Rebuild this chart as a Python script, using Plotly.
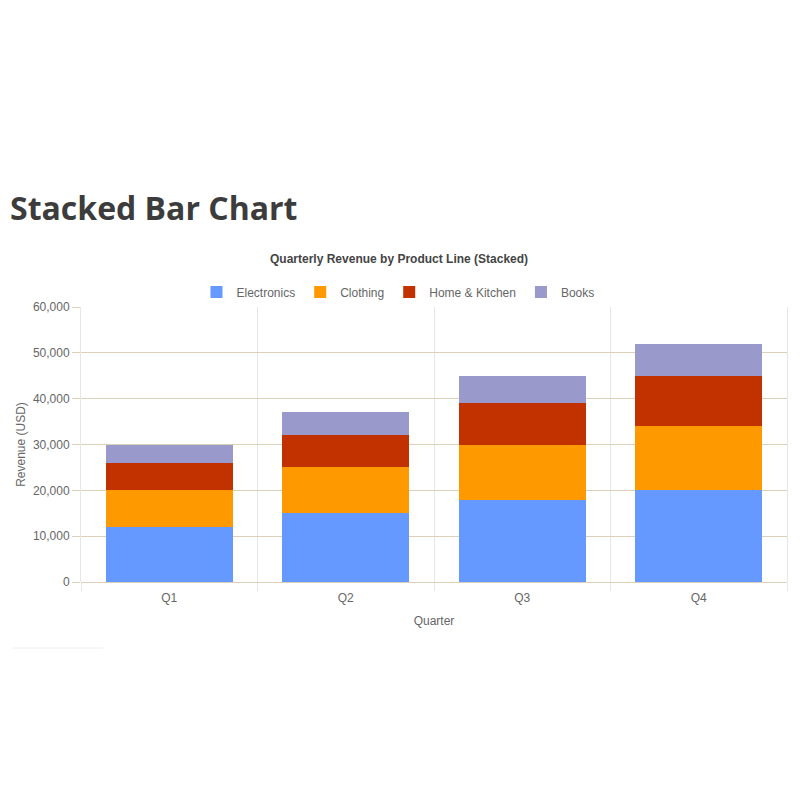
import plotly.graph_objects as go

quarters = ["Q1", "Q2", "Q3", "Q4"]
electronics = [12000, 15000, 18000, 20000]
clothing = [8000, 10000, 12000, 14000]
home_kitchen = [6000, 7000, 9000, 11000]
books = [4000, 5000, 6000, 7000]

series = [
    ("Electronics", electronics, "#6699ff"),
    ("Clothing", clothing, "#ff9900"),
    ("Home & Kitchen", home_kitchen, "#c23200"),
    ("Books", books, "#9999cc"),
]

BEIGE = "#ddd0ba"
GREY_GRID = "#e6e6e6"
TEXT = "#666666"

# plot area in figure pixels (page body adds an 8px offset)
L, R, T, B = 73, 779, 299, 574
W, H = R - L, B - T


def px(x):
    return (x - L) / W


def py(y):
    return (B - y) / H


fig = go.Figure()
for name, vals, color in series:
    fig.add_trace(go.Bar(x=quarters, y=vals, name=name, marker=dict(color=color, line=dict(width=0))))

fig.update_layout(
    width=800, height=800,
    barmode="stack",
    bargap=0.28,
    plot_bgcolor="white",
    paper_bgcolor="white",
    margin=dict(l=L, r=800 - R, t=T, b=800 - B, autoexpand=False),
    font=dict(family="Liberation Sans, Arial", size=12, color=TEXT),
    showlegend=True,
    legend=dict(
        orientation="h",
        x=px(390), xanchor="center",
        y=py(284), yanchor="middle",
        font=dict(size=12, color=TEXT),
        traceorder="normal",
    ),
    annotations=[
        dict(text="<b>Stacked Bar Chart</b>", xref="paper", yref="paper",
             x=px(0), y=py(200), xanchor="left", yanchor="middle",
             showarrow=False, font=dict(family="Open Sans", size=32, color="#3c3c3c")),
        dict(text="<b>Quarterly Revenue by Product Line (Stacked)</b>", xref="paper", yref="paper",
             x=px(391), y=py(251), xanchor="center", yanchor="middle",
             showarrow=False, font=dict(family="Liberation Sans, Arial", size=12, color="#444444")),
    ],
    shapes=[
        dict(type="line", xref="paper", yref="paper",
             x0=px(4), x1=px(95), y0=py(640), y1=py(640),
             line=dict(color="#eeeeee", width=1)),
    ],
)

fig.update_xaxes(
    type="category",
    range=[-0.5, 3.5],
    tickson="boundaries",
    showgrid=True, gridcolor=GREY_GRID, gridwidth=1,
    ticks="outside", ticklen=8, tickcolor=GREY_GRID,
    ticklabelstandoff=7,
    tickfont=dict(size=12, color=TEXT),
    title=dict(text="Quarter", font=dict(size=12, color=TEXT), standoff=12),
)
fig.update_yaxes(
    range=[0, 60000],
    dtick=10000,
    tickformat=",",
    showgrid=True, gridcolor=BEIGE, gridwidth=1,
    zeroline=True, zerolinecolor=BEIGE, zerolinewidth=1,
    showline=True, linecolor=GREY_GRID, linewidth=1, mirror=True,
    ticks="outside", ticklen=8, tickcolor=BEIGE,
    tickfont=dict(size=12, color=TEXT),
    title=dict(text="Revenue (USD)", font=dict(size=12, color=TEXT), standoff=4),
)

fig.write_html("out.html")
